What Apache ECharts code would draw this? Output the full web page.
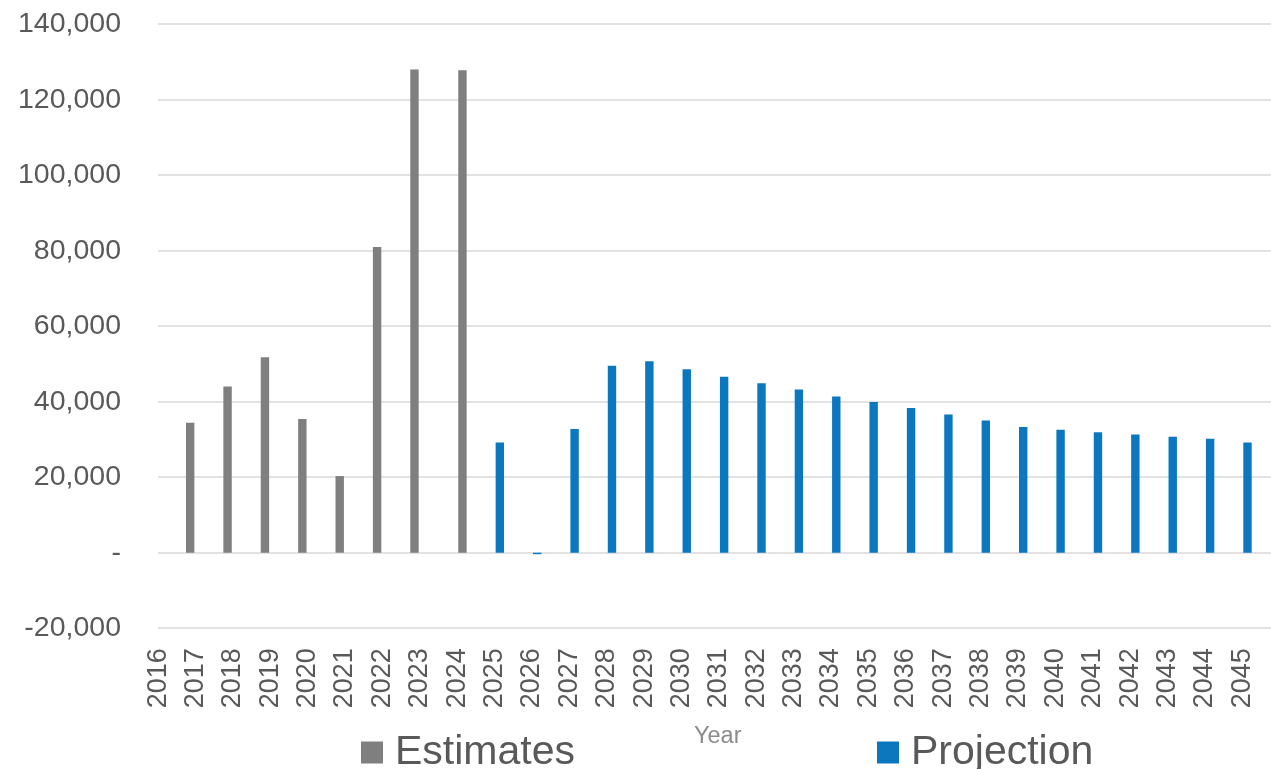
<!DOCTYPE html>
<html>
<head>
<meta charset="utf-8">
<title>Estimates and Projection by Year</title>
<script src="https://cdn.jsdelivr.net/npm/echarts@6/dist/echarts.min.js"></script>
<style>
  html, body { margin: 0; padding: 0; background: #ffffff; }
  #chart { width: 1271px; height: 769px; }
</style>
</head>
<body>
<div id="chart"></div>
<script>
// Categories
const years = [
  '2016', '2017', '2018', '2019', '2020', '2021', '2022', '2023', '2024', '2025',
  '2026', '2027', '2028', '2029', '2030', '2031', '2032', '2033', '2034', '2035',
  '2036', '2037', '2038', '2039', '2040', '2041', '2042', '2043', '2044', '2045'
];

// Historical estimates (null where there is no estimate)
const estimates = [
  null, 34400, 44000, 51800, 35400, 20300, 81000, 128000, 127800, null,
  null, null, null, null, null, null, null, null, null, null,
  null, null, null, null, null, null, null, null, null, null
];

// Projected values
const projection = [
  null, null, null, null, null, null, null, null, null, 29200,
  -400, 32800, 49500, 50700, 48600, 46600, 44900, 43200, 41400, 39900,
  38300, 36600, 35000, 33300, 32600, 31900, 31300, 30700, 30200, 29200
];

// Value axis ticks
const yTicks = [-20000, 0, 20000, 40000, 60000, 80000, 100000, 120000, 140000];

const GREY = '#7f7f7f';
const BLUE = '#0b77bf';
const TEXT = '#595959';
const FONT = '"Liberation Sans", Arial, sans-serif';

// The latest estimate is the base year of the projection, so it is drawn
// in the projection slot while keeping the estimate colour.
let baseIdx = -1;
estimates.forEach((v, i) => { if (v !== null) baseIdx = i; });

const estData = estimates.map((v, i) => (i === baseIdx ? null : v));
const projData = projection.map((v, i) => {
  if (i === baseIdx) return { value: estimates[i], itemStyle: { color: GREY } };
  return v;
});

const yMin = yTicks[0];
const yMax = yTicks[yTicks.length - 1];
const yStep = yTicks[1] - yTicks[0];

const fmt = v => (v === 0 ? '-' : v.toLocaleString('en-US'));

const chart = echarts.init(document.getElementById('chart'), null, { renderer: 'canvas' });

chart.setOption({
  animation: false,
  backgroundColor: '#ffffff',
  title: {
    text: 'Year',
    left: 694,
    top: 725,
    padding: 0,
    textStyle: { fontFamily: FONT, fontSize: 23.5, fontWeight: 'normal', color: '#8c8c8c' }
  },
  legend: [
    {
      data: ['Estimates'],
      left: 361, top: 732,
      padding: 0,
      icon: 'rect', itemWidth: 22, itemHeight: 22,
      textStyle: { fontFamily: FONT, fontSize: 41, color: TEXT, padding: [0, 0, 0, 7] }
    },
    {
      data: ['Projection'],
      left: 877, top: 732,
      padding: 0,
      icon: 'rect', itemWidth: 22, itemHeight: 22,
      textStyle: { fontFamily: FONT, fontSize: 41, color: TEXT, padding: [0, 0, 0, 7] }
    }
  ],
  grid: [
    // bars
    { left: 139.4, width: 1121.5, top: 24.2, height: 604, containLabel: false },
    // value scale, labels and gridlines
    { left: 158, right: 0, top: 24.2, height: 604, containLabel: false }
  ],
  xAxis: [
    {
      type: 'category',
      gridIndex: 0,
      data: years,
      boundaryGap: true,
      axisLine: { show: false, onZero: false },
      axisTick: { show: false },
      axisLabel: {
        rotate: 90,
        margin: 20,
        interval: 0,
        fontFamily: FONT,
        fontSize: 27,
        color: TEXT
      }
    },
    { type: 'value', gridIndex: 1, show: false, min: 0, max: 1 }
  ],
  yAxis: [
    { type: 'value', gridIndex: 0, min: yMin, max: yMax, interval: yStep, show: false },
    {
      type: 'value',
      gridIndex: 1,
      min: yMin,
      max: yMax,
      interval: yStep,
      axisLine: { show: false },
      axisTick: { show: false },
      splitLine: { show: true, lineStyle: { color: '#d9d9d9', width: 1.5 } },
      axisLabel: {
        margin: 37,
        fontFamily: FONT,
        fontSize: 28.5,
        color: TEXT,
        formatter: fmt
      }
    }
  ],
  series: [
    {
      name: 'Estimates',
      type: 'bar',
      xAxisIndex: 0,
      yAxisIndex: 0,
      data: estData,
      barWidth: 8.4,
      barGap: '26%',
      itemStyle: { color: GREY }
    },
    {
      name: 'Projection',
      type: 'bar',
      xAxisIndex: 0,
      yAxisIndex: 0,
      data: projData,
      barWidth: 8.4,
      barGap: '26%',
      itemStyle: { color: BLUE }
    }
  ]
});
</script>
</body>
</html>
